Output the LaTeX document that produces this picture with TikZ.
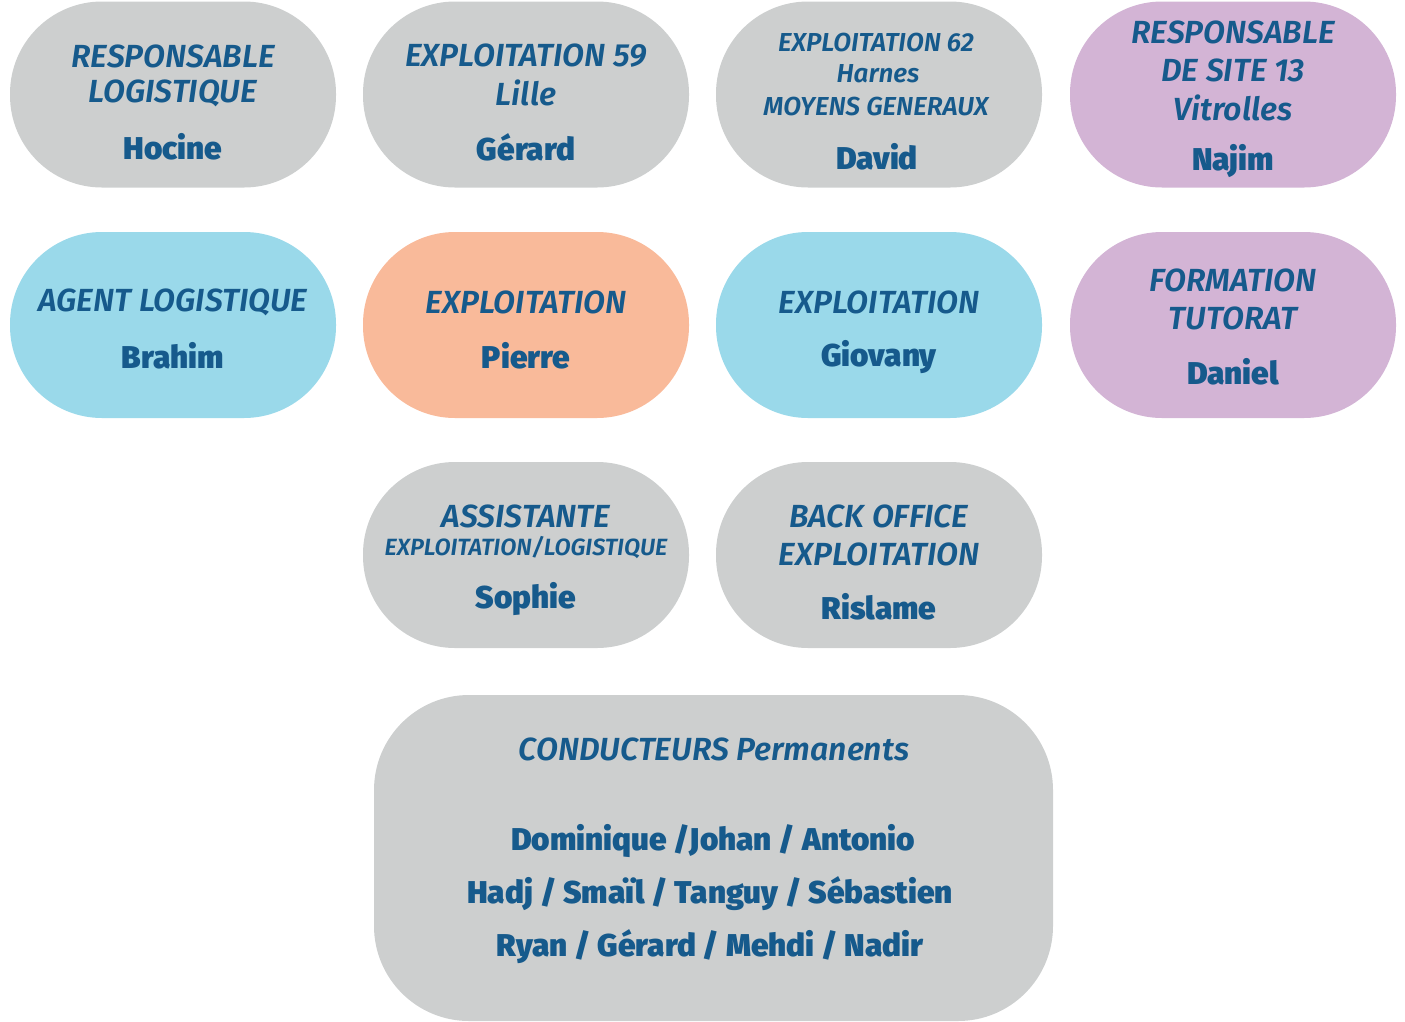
\documentclass[tikz,border=0pt]{standalone}
\usepackage{fontspec}
\setmainfont{Fira Sans}
\newfontfamily\namefont{Fira Sans Black}
\newfontfamily\titlefont{Fira Sans SemiBold Italic}
\definecolor{boxgray}{RGB}{205,207,207}
\definecolor{boxblue}{RGB}{154,217,234}
\definecolor{boxorange}{RGB}{249,186,154}
\definecolor{boxpurple}{RGB}{211,180,213}
\definecolor{tblue}{RGB}{22,90,140}
\begin{document}
\begin{tikzpicture}[x=1pt,y=-1pt,
  pill/.style={rectangle, rounded corners=92pt, minimum width=326pt, minimum height=186pt, inner sep=0pt, draw=none},
  ttl/.style={text=tblue, inner sep=0pt, anchor=center, font=\fontsize{32}{34}\titlefont},
  sttl/.style={text=tblue, inner sep=0pt, anchor=center, font=\fontsize{26}{28}\titlefont},
  nm/.style={text=tblue, inner sep=0pt, anchor=center, font=\fontsize{31.5}{33}\namefont}
]
\useasboundingbox (0,0) rectangle (1405,1021);
% row 1
\node[pill, fill=boxgray] (b11) at (173,94.5) {};
\node[pill, fill=boxgray] (b12) at (526,94.5) {};
\node[pill, fill=boxgray] (b13) at (879,94.5) {};
\node[pill, fill=boxpurple] (b14) at (1233,94.5) {};
% row 2
\node[pill, fill=boxblue] (b21) at (173,325) {};
\node[pill, fill=boxorange] (b22) at (526,325) {};
\node[pill, fill=boxblue] (b23) at (879,325) {};
\node[pill, fill=boxpurple] (b24) at (1233,325) {};
% row 3
\node[pill, fill=boxgray] (b32) at (526,555) {};
\node[pill, fill=boxgray] (b33) at (879,555) {};
% big
\node[rectangle, rounded corners=95pt, minimum width=679pt, minimum height=326pt, inner sep=0pt, fill=boxgray] (big) at (713.5,858) {};

% texts row 1
\node[ttl] (t11a) at (173,56) {RESPONSABLE};
\node[ttl] (t11b) at (173,93) {LOGISTIQUE};
\node[nm] (t11c) at (173,147) {Hocine};

\node[ttl] (t12a) at (526,56) {EXPLOITATION 59};
\node[ttl] (t12b) at (526,93) {Lille};
\node[nm] (t12c) at (526,147) {Gérard};

\node[sttl] (t13a) at (876,42) {EXPLOITATION 62};
\node[sttl] (t13b) at (878,74) {Harnes};
\node[sttl] (t13c) at (876,106) {MOYENS GENERAUX};
\node[nm] (t13d) at (877,157) {David};

\node[ttl] (t14a) at (1233,32) {RESPONSABLE};
\node[ttl] (t14b) at (1233,70) {DE SITE 13};
\node[ttl] (t14c) at (1233,108) {Vitrolles};
\node[nm] (t14d) at (1233,161) {Najim};

% texts row 2
\node[ttl] (t21a) at (173,302) {AGENT LOGISTIQUE};
\node[nm] (t21b) at (173,356) {Brahim};

\node[ttl] (t22a) at (526,302) {EXPLOITATION};
\node[nm] (t22b) at (526,356) {Pierre};

\node[ttl] (t23a) at (879,302) {EXPLOITATION};
\node[nm] (t23b) at (879,357) {Giovany};

\node[ttl] (t24a) at (1233,280) {FORMATION};
\node[ttl] (t24b) at (1233,318) {TUTORAT};
\node[nm] (t24c) at (1233,372) {Daniel};

% texts row 3
\node[ttl] (t32a) at (526,516) {ASSISTANTE};
\node[ttl, font=\fontsize{23.5}{25}\titlefont] (t32b) at (526,548) {EXPLOITATION/LOGISTIQUE};
\node[nm] (t32c) at (526,599) {Sophie};

\node[ttl] (t33a) at (879,516) {BACK OFFICE};
\node[ttl] (t33b) at (879,554) {EXPLOITATION};
\node[nm] (t33c) at (879,607) {Rislame};

% big box texts
\node[ttl] (tba) at (714,749) {CONDUCTEURS Permanents};
\node[nm] (tbb) at (713,841) {Dominique /Johan / Antonio};
\node[nm] (tbc) at (710,894) {Hadj / Smaïl / Tanguy / Sébastien};
\node[nm] (tbd) at (710,947) {Ryan / Gérard / Mehdi / Nadir};
\end{tikzpicture}
\end{document}
